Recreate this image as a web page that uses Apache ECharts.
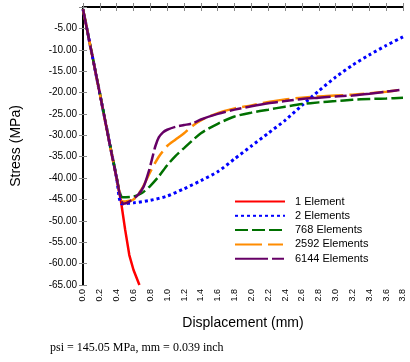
<!DOCTYPE html>
<html><head><meta charset="utf-8">
<script src="https://cdn.jsdelivr.net/npm/echarts@6/dist/echarts.min.js"></script>
<style>html,body{margin:0;padding:0;background:#fff}#c{width:410px;height:362px}</style>
</head><body><div id="c"></div>
<script>
const seriesNames = ['1 Element', '2 Elements', '768 Elements', '2592 Elements', '6144 Elements'];
const xTicks = [0,0.2,0.4,0.6,0.8,1.0,1.2,1.4,1.6,1.8,2.0,2.2,2.4,2.6,2.8,3.0,3.2,3.4,3.6,3.8];
const oneElemX = [0, 0.1, 0.2, 0.3, 0.4, 0.45, 0.5, 0.55, 0.6, 0.67];
const oneElemY = [-0.5, -10.4, -20.3, -30.2, -40.1, -45.3, -52, -58, -61.5, -65];
const twoElemX = [0, 0.2, 0.4, 0.46, 0.6, 0.8, 1.0, 1.2, 1.4, 1.6, 1.8, 2.0, 2.2, 2.4, 2.6, 2.8, 3.0, 3.2, 3.4, 3.6, 3.8];
const twoElemY = [-0.5, -20.3, -40.1, -46, -45.8, -45.2, -44.2, -42.5, -40.6, -38.5, -35.5, -32.5, -29.5, -26.5, -23, -19.6, -16.4, -13.6, -11.2, -9, -7];
const e768X = [0, 0.2, 0.4, 0.47, 0.6, 0.7, 0.8, 0.9, 1.0, 1.1, 1.2, 1.4, 1.6, 1.8, 2.0, 2.2, 2.4, 2.6, 2.8, 3.0, 3.2, 3.4, 3.6, 3.8];
const e768Y = [-0.5, -20.1, -39.8, -44.5, -44.3, -43.5, -41.8, -39.6, -37, -34.8, -33, -29.5, -27.3, -25.6, -24.7, -24, -23.3, -22.7, -22.3, -22, -21.7, -21.5, -21.4, -21.2];
const e2592X = [0, 0.2, 0.4, 0.48, 0.6, 0.7, 0.8, 0.9, 1.0, 1.1, 1.2, 1.3, 1.4, 1.6, 1.8, 2.0, 2.2, 2.4, 2.6, 2.8, 3.0, 3.2, 3.4, 3.6, 3.8];
const e2592Y = [-0.5, -20.3, -40.1, -45.5, -45, -42.5, -38.5, -35, -32.5, -31, -29.5, -27.8, -26.5, -24.8, -23.7, -23, -22.2, -21.6, -21.2, -20.9, -20.7, -20.5, -20.2, -19.8, -19.3];
const e6144X = [0, 0.2, 0.4, 0.48, 0.55, 0.65, 0.72, 0.78, 0.82, 0.86, 0.9, 0.95, 1.0, 1.1, 1.2, 1.3, 1.4, 1.6, 1.8, 2.0, 2.2, 2.4, 2.6, 2.8, 3.0, 3.2, 3.4, 3.6, 3.8];
const e6144Y = [-0.5, -20.3, -40.1, -46, -45.5, -44, -42, -38.5, -35.5, -32.5, -30.5, -29.3, -28.7, -28, -27.6, -27.2, -26.3, -25, -24, -23.2, -22.5, -22, -21.5, -21.2, -20.9, -20.7, -20.3, -19.8, -19.3];

const zip = (xs, ys) => xs.map((x, i) => [x, ys[i]]);
const styles = [
  {color: '#ff0000', type: 'solid', width: 2.5, smooth: false},
  {color: '#0000ff', type: [3, 3], width: 3, smooth: 0.25},
  {color: '#007000', type: [13, 4], width: 2.5, smooth: 0.25},
  {color: '#ff8c00', type: [27, 6, 15, 6], width: 2.5, smooth: 0.25},
  {color: '#660066', type: [33, 4, 12, 4], width: 2.5, smooth: 0.25}
];
const datas = [zip(oneElemX, oneElemY), zip(twoElemX, twoElemY), zip(e768X, e768Y), zip(e2592X, e2592Y), zip(e6144X, e6144Y)];

const chart = echarts.init(document.getElementById('c'));
const font = 'Arial, "Liberation Sans", sans-serif';
chart.setOption({
  animation: false,
  backgroundColor: '#fff',
  grid: {left: 83, right: 7, top: 7, bottom: 77},
  legend: {
    orient: 'vertical', left: 234, top: 196, padding: 0, itemWidth: 50, itemHeight: 8, itemGap: 3.3,
    itemStyle: {opacity: 0},
    textStyle: {fontFamily: font, fontSize: 11, color: '#000', padding: [0, 0, 0, 5]},
    data: seriesNames
  },
  xAxis: [{
    type: 'value', min: 0, max: 3.8, interval: 0.2,
    name: 'Displacement (mm)', nameLocation: 'middle', nameGap: 31,
    nameTextStyle: {fontFamily: font, fontSize: 14, color: '#000'},
    axisLine: {lineStyle: {color: '#000', width: 2}},
    axisTick: {inside: true, length: 4, lineStyle: {color: '#888'}},
    axisLabel: {rotate: 90, fontFamily: font, fontSize: 9, color: '#000', margin: 4,
      formatter: v => v.toFixed(1)},
    splitLine: {show: false}
  }, {
    type: 'value', min: 0, max: 3.8, interval: 0.2, position: 'top',
    axisLine: {lineStyle: {color: '#000', width: 2}},
    axisTick: {inside: true, length: 4, lineStyle: {color: '#888'}},
    axisLabel: {show: false}, splitLine: {show: false}
  }],
  yAxis: [{
    type: 'value', min: -65, max: 0, interval: 5,
    name: 'Stress (MPa)', nameLocation: 'middle', nameGap: 60, nameRotate: 90,
    nameTextStyle: {fontFamily: font, fontSize: 14, color: '#000'},
    axisLine: {lineStyle: {color: '#000', width: 2}},
    axisTick: {inside: true, length: 4, lineStyle: {color: '#888'}},
    axisLabel: {fontFamily: font, fontSize: 10, color: '#000', margin: 6,
      formatter: v => v === 0 ? '' : v.toFixed(2)},
    splitLine: {show: false}
  }, {
    type: 'value', min: -65, max: 0, interval: 5, position: 'right',
    axisLine: {lineStyle: {color: '#000', width: 2}},
    axisTick: {inside: true, length: 4, lineStyle: {color: '#888'}},
    axisLabel: {show: false}, splitLine: {show: false}
  }],
  graphic: [{
    type: 'text', left: 50, top: 342,
    style: {text: 'psi = 145.05 MPa, mm = 0.039 inch', fill: '#000',
      font: '12px "Liberation Serif", "Times New Roman", serif'}
  }],
  series: seriesNames.map((n, i) => ({
    name: n, type: 'line', data: datas[i], symbol: 'none', smooth: styles[i].smooth,
    clip: true, color: styles[i].color,
    lineStyle: {color: styles[i].color, type: styles[i].type, width: styles[i].width},
    z: 2 + i
  }))
});
</script></body></html>
